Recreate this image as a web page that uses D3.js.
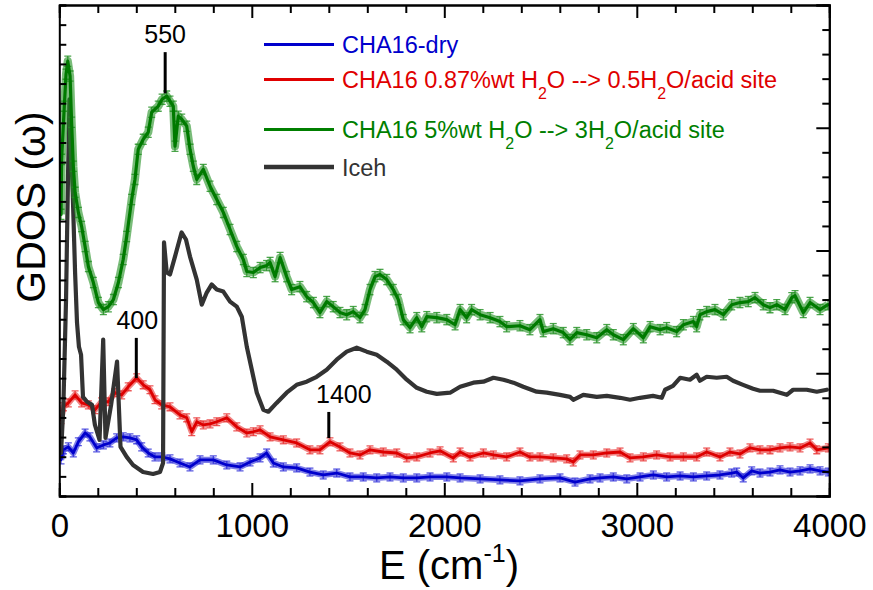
<!DOCTYPE html>
<html>
<head>
<meta charset="utf-8">
<script src="https://cdn.jsdelivr.net/npm/d3@7"></script>
<style>
  html, body { margin: 0; padding: 0; background: #fff; }
  svg { display: block; font-family: "Liberation Sans", Arial, Helvetica, sans-serif; }
</style>
</head>
<body>
<svg id="chart" width="873" height="590"></svg>
<script>
// ---- Energy transfer (cm-1) and GDOS values for each sample ----
const energyDry = [9,21,47,73,99,134,159,194,229,263,298,332,367,402,428,462,497,532,575,627,679,731,800,870,939,991,1043,1077,1112,1164,1233,1302,1371,1441,1510,1579,1649,1718,1787,1857,1926,2013,2082,2186,2289,2393,2497,2601,2679,2757,2809,2878,2948,3017,3086,3155,3225,3294,3363,3432,3493,3519,3553,3597,3640,3692,3744,3796,3848,3900,3952,3995];
const gdosDry = [1.84,2.35,2.50,2.19,2.76,3.21,3.01,2.45,2.60,2.70,2.96,3.01,2.96,2.86,2.50,2.19,1.99,1.99,1.89,1.68,1.48,1.84,1.84,1.58,1.48,1.73,1.94,2.19,1.68,1.48,1.43,1.22,1.07,1.17,0.97,0.97,0.92,0.97,0.92,0.92,0.97,0.97,0.92,0.87,0.82,0.77,0.87,0.92,0.71,0.87,0.92,0.97,0.87,0.97,1.07,0.97,1.02,0.97,1.02,1.07,1.17,1.22,0.92,1.28,1.17,1.22,1.33,1.22,1.28,1.38,1.28,1.22];

const energyLow = [9,21,47,82,116,151,185,220,255,289,324,358,402,436,471,497,532,575,627,662,688,714,748,783,818,870,922,974,1008,1043,1095,1164,1233,1302,1354,1406,1458,1510,1562,1614,1683,1753,1805,1857,1926,1978,2047,2082,2134,2203,2255,2324,2393,2445,2497,2566,2636,2670,2705,2774,2844,2913,2965,3034,3103,3173,3242,3311,3363,3432,3484,3536,3588,3640,3692,3744,3796,3848,3900,3935,3995];
const gdosLow = [3.88,4.54,4.74,5.15,4.74,4.64,4.39,4.80,4.80,5.26,5.15,5.56,6.02,5.66,5.41,4.90,4.64,4.54,4.13,3.98,3.27,3.78,3.62,3.67,3.78,3.98,3.52,3.21,3.27,3.37,3.01,2.86,2.70,2.35,2.35,2.76,2.50,2.19,2.09,2.35,2.24,2.19,1.94,1.99,2.19,2.30,1.94,2.24,1.99,2.19,2.09,1.99,2.24,1.99,1.99,1.94,1.89,1.73,2.09,2.09,2.19,2.24,1.94,1.99,2.09,1.99,1.99,1.99,2.24,1.99,2.24,2.14,2.45,2.35,2.35,2.45,2.50,2.45,2.70,2.35,2.45];

const energyHigh = [9,12,26,35,44,56,64,73,82,99,116,134,151,177,203,229,255,281,307,332,350,376,393,410,436,462,480,514,534,558,575,592,601,618,636,662,679,696,714,748,783,818,852,887,922,956,974,1008,1043,1077,1095,1121,1147,1181,1207,1250,1285,1320,1354,1389,1423,1458,1493,1527,1562,1588,1614,1640,1666,1701,1735,1761,1787,1822,1857,1883,1909,1961,2013,2056,2082,2116,2142,2186,2238,2289,2324,2393,2445,2497,2514,2566,2618,2653,2688,2740,2792,2844,2878,2930,2982,3034,3069,3121,3155,3207,3242,3294,3311,3328,3363,3406,3450,3493,3536,3579,3614,3657,3692,3727,3770,3805,3822,3865,3900,3952,3993];
const gdosHigh = [14.34,17.14,19.85,21.48,22.14,21.38,19.03,16.79,15.46,14.44,13.72,12.70,11.68,10.87,9.85,9.49,9.64,10.00,10.87,12.04,13.21,15.10,16.12,17.65,18.16,18.52,19.54,19.85,20.20,20.36,20.10,19.85,17.81,19.34,19.18,18.83,17.65,16.79,16.12,16.63,15.77,15.10,14.44,13.57,12.70,12.04,11.43,11.38,11.63,11.73,11.89,11.17,12.14,11.17,10.51,10.66,10.15,9.85,9.34,9.90,9.64,9.34,9.23,9.39,9.08,9.49,10.51,11.17,11.28,11.02,10.51,10.00,8.98,8.57,9.08,8.62,9.13,9.08,8.98,8.72,9.49,9.08,9.49,9.23,9.08,8.88,8.62,8.67,8.47,8.98,8.37,8.52,8.32,7.96,8.32,8.21,8.06,8.47,8.21,7.96,8.52,8.06,8.62,8.47,8.57,8.37,8.72,8.88,8.62,9.23,9.39,9.49,9.23,9.74,9.85,9.90,10.10,9.74,9.59,9.74,9.49,10.10,10.20,9.34,9.85,9.49,9.74];

const energyIce = [9,21,35,45,53,63,82,92,102,113,123,144,170,185,209,228,240,269,300,318,350,383,435,487,523,539,544,558,575,601,635,658,679,714,740,766,792,818,852,887,922,948,974,1000,1026,1060,1086,1129,1181,1233,1285,1337,1389,1441,1493,1545,1597,1649,1701,1753,1805,1857,1909,1961,2030,2082,2151,2203,2255,2307,2359,2410,2480,2532,2601,2653,2670,2722,2792,2844,2913,2965,3017,3084,3130,3147,3188,3225,3276,3311,3328,3363,3415,3467,3500,3552,3604,3640,3708,3779,3812,3883,3935,3987];
const gdosIce = [2.19,4.54,10.00,16.12,20.20,17.65,11.38,8.83,7.60,7.19,5.05,4.80,4.64,3.62,2.86,7.96,2.96,4.64,6.84,2.50,1.99,1.58,1.22,1.12,1.22,1.68,12.91,11.38,11.28,12.19,13.42,13.06,12.19,11.02,9.74,10.36,10.77,10.51,10.41,9.90,9.64,9.13,7.60,6.43,5.26,4.39,4.29,4.74,5.26,5.66,5.82,6.07,6.43,6.94,7.35,7.55,7.35,7.19,6.84,6.43,5.92,5.51,5.31,5.20,5.26,5.56,5.77,5.82,6.02,5.92,5.77,5.56,5.31,5.26,5.15,5.05,4.90,5.15,5.05,5.10,5.00,4.90,5.00,5.10,5.00,5.41,5.61,6.02,5.92,6.17,5.87,6.07,6.02,6.07,5.87,5.66,5.46,5.36,5.36,5.15,5.41,5.41,5.31,5.41];

// Uncertainty of the measured spectra (same units as GDOS)
const errDry = 0.2;
const errLow = 0.2;
const errHigh = 0.26;

// Axis tick values
const xMajorTicks = [0, 1000, 2000, 3000, 4000];
const xTickLabels = ["0", "1000", "2000", "3000", "4000"];
const xMinorStep = 200;
const yLeftStep = 1;     // left axis: 0..25
const yRightStep = 1;    // right axis: 0..20, longer tick every 5

// Marked peak positions
const peakEnergies = [550, 400, 1400];
const peakLabels = ["550", "400", "1400"];

// ---- layout ----
const plot = { left: 59.3, right: 829.3, top: 5, bottom: 496 };

const svg = d3.select("#chart");

const x = d3.scaleLinear().domain([0, 4000]).range([plot.left, plot.right]);
const y = d3.scaleLinear().domain([0, 25]).range([plot.bottom, plot.top]);
const yRight = d3.scaleLinear().domain([0, 20]).range([plot.bottom, plot.top]);

const series = [
  { key: "dry",  energy: energyDry,  gdos: gdosDry,  err: errDry,  color: "#0000cc", bar: "#2a2ad8", width: 2.8 },
  { key: "low",  energy: energyLow,  gdos: gdosLow,  err: errLow,  color: "#dd0000", bar: "#e83030", width: 2.8 },
  { key: "ice",  energy: energyIce,  gdos: gdosIce,  err: 0,       color: "#333333", bar: null,      width: 4.2 },
  { key: "high", energy: energyHigh, gdos: gdosHigh, err: errHigh, color: "#007a00", bar: "#1f8f1f", width: 3.2 }
];

const clipId = "plot-clip";
svg.append("clipPath").attr("id", clipId)
  .append("rect")
  .attr("x", plot.left).attr("y", plot.top)
  .attr("width", plot.right - plot.left).attr("height", plot.bottom - plot.top);

const gData = svg.append("g").attr("clip-path", `url(#${clipId})`);

const line = d3.line()
  .x(d => x(d.e))
  .y(d => y(d.v))
  .curve(d3.curveLinear);

series.forEach(s => {
  const pts = s.energy.map((e, i) => ({ e, v: s.gdos[i] }));
  const g = gData.append("g").attr("class", "series-" + s.key);
  if (s.err > 0) {
    // error band along the spectrum
    g.append("path")
      .datum(pts)
      .attr("d", line)
      .attr("fill", "none")
      .attr("stroke", s.bar)
      .attr("stroke-opacity", 0.6)
      .attr("stroke-width", (y(0) - y(2 * s.err)) * 0.8)
      .attr("stroke-linejoin", "round");
    // error bars with caps
    const bars = g.append("g")
      .attr("stroke", s.bar)
      .attr("stroke-opacity", 0.8)
      .attr("stroke-width", 1.3);
    bars.selectAll("line.v").data(pts).join("line")
      .attr("class", "v")
      .attr("x1", d => x(d.e)).attr("x2", d => x(d.e))
      .attr("y1", d => y(d.v - s.err)).attr("y2", d => y(d.v + s.err));
    bars.selectAll("line.t").data(pts).join("line")
      .attr("class", "t")
      .attr("x1", d => x(d.e) - 3.5).attr("x2", d => x(d.e) + 3.5)
      .attr("y1", d => y(d.v + s.err)).attr("y2", d => y(d.v + s.err));
    bars.selectAll("line.b").data(pts).join("line")
      .attr("class", "b")
      .attr("x1", d => x(d.e) - 3.5).attr("x2", d => x(d.e) + 3.5)
      .attr("y1", d => y(d.v - s.err)).attr("y2", d => y(d.v - s.err));
  }
  g.append("path")
    .datum(pts)
    .attr("d", line)
    .attr("fill", "none")
    .attr("stroke", s.color)
    .attr("stroke-width", s.width)
    .attr("stroke-linejoin", "round")
    .attr("stroke-linecap", "round");
});

// ---- axes (all ticks point inward) ----
const xMinor = d3.range(0, 4001, xMinorStep).filter(v => v % 1000 !== 0);
const tickStyle = g => {
  g.selectAll(".domain").attr("stroke", "#000").attr("stroke-width", 2);
  g.selectAll(".tick line").attr("stroke", "#000").attr("stroke-width", 2);
};

svg.append("g")
  .attr("transform", `translate(0,${plot.bottom})`)
  .call(d3.axisBottom(x).tickValues(xMinor).tickSize(-8).tickFormat(""))
  .call(tickStyle);
const bottomMajor = svg.append("g")
  .attr("transform", `translate(0,${plot.bottom})`)
  .call(d3.axisBottom(x).tickValues(xMajorTicks).tickSizeInner(-13).tickSizeOuter(0)
    .tickPadding(17.5).tickFormat((d, i) => xTickLabels[i]))
  .call(tickStyle);
bottomMajor.selectAll(".tick text")
  .attr("fill", "#000")
  .style("font-size", "33px")
  .style("font-family", "'Liberation Sans', Arial, sans-serif");

svg.append("g")
  .attr("transform", `translate(0,${plot.top})`)
  .call(d3.axisTop(x).tickValues(xMinor).tickSize(-8).tickFormat(""))
  .call(tickStyle);
svg.append("g")
  .attr("transform", `translate(0,${plot.top})`)
  .call(d3.axisTop(x).tickValues(xMajorTicks).tickSizeInner(-13).tickSizeOuter(0).tickFormat(""))
  .call(tickStyle);

svg.append("g")
  .attr("transform", `translate(${plot.left},0)`)
  .call(d3.axisLeft(y).tickValues(d3.range(0, 25.01, yLeftStep)).tickSize(-7).tickFormat(""))
  .call(tickStyle);

const rightVals = d3.range(0, 20.01, yRightStep);
svg.append("g")
  .attr("transform", `translate(${plot.right},0)`)
  .call(d3.axisRight(yRight).tickValues(rightVals.filter(v => v % 5 !== 0)).tickSize(-7).tickFormat(""))
  .call(tickStyle);
svg.append("g")
  .attr("transform", `translate(${plot.right},0)`)
  .call(d3.axisRight(yRight).tickValues(rightVals.filter(v => v % 5 === 0)).tickSize(-13).tickFormat(""))
  .call(tickStyle);

// ---- axis titles ----
const xTitle = svg.append("text")
  .attr("x", 449).attr("y", 579)
  .attr("text-anchor", "middle")
  .style("font-size", "40px")
  .attr("fill", "#000");
xTitle.append("tspan").text("E (cm");
xTitle.append("tspan").attr("dy", -17).style("font-size", "25px").text("-1");
xTitle.append("tspan").attr("dy", 17).text(")");

svg.append("text")
  .attr("transform", "translate(45,207) rotate(-90)")
  .attr("text-anchor", "middle")
  .style("font-size", "41px")
  .attr("fill", "#000")
  .text("GDOS (\u03c9)");

// ---- peak markers ----
const markerLayout = [
  { top: 22.6, bottom: 20.5, dx: 0 },
  { top: 8.05, bottom: 6.0,  dx: 1 },
  { top: 4.28, bottom: 2.95, dx: 15 }
];
peakEnergies.forEach((e, i) => {
  const m = markerLayout[i];
  svg.append("line")
    .attr("x1", x(e)).attr("x2", x(e))
    .attr("y1", y(m.top)).attr("y2", y(m.bottom))
    .attr("stroke", "#000").attr("stroke-width", 3);
  svg.append("text")
    .attr("x", x(e) + m.dx).attr("y", y(m.top) - 9)
    .attr("text-anchor", "middle")
    .style("font-size", "25px")
    .attr("fill", "#000")
    .text(peakLabels[i]);
});

// ---- legend ----
const legendItems = [
  { color: "#0000cc", text: [["CHA16-dry", 0]], width: 3, y: 44.5 },
  { color: "#e00000", text: [["CHA16 0.87%wt H", 0], ["2", 1], ["O --> 0.5H", 0], ["2", 1], ["O/acid site", 0]], width: 3, y: 79.5 },
  { color: "#007f00", text: [["CHA16 5%wt H", 0], ["2", 1], ["O --> 3H", 0], ["2", 1], ["O/acid site", 0]], width: 3, y: 129.5 },
  { color: "#333333", text: [["Iceh", 0]], width: 4.5, y: 167 }
];
const legend = svg.append("g");
legendItems.forEach(item => {
  legend.append("line")
    .attr("x1", 264).attr("x2", 334)
    .attr("y1", item.y).attr("y2", item.y)
    .attr("stroke", item.color).attr("stroke-width", item.width);
  const t = legend.append("text")
    .attr("x", 342).attr("y", item.y + 8.5)
    .style("font-size", "23.5px")
    .attr("fill", item.color);
  let lowered = false;
  item.text.forEach(([str, sub]) => {
    const ts = t.append("tspan").text(str);
    if (sub && !lowered) { ts.attr("dy", 11).style("font-size", "16px"); lowered = true; }
    else if (!sub && lowered) { ts.attr("dy", -11); lowered = false; }
  });
});
</script>
</body>
</html>
